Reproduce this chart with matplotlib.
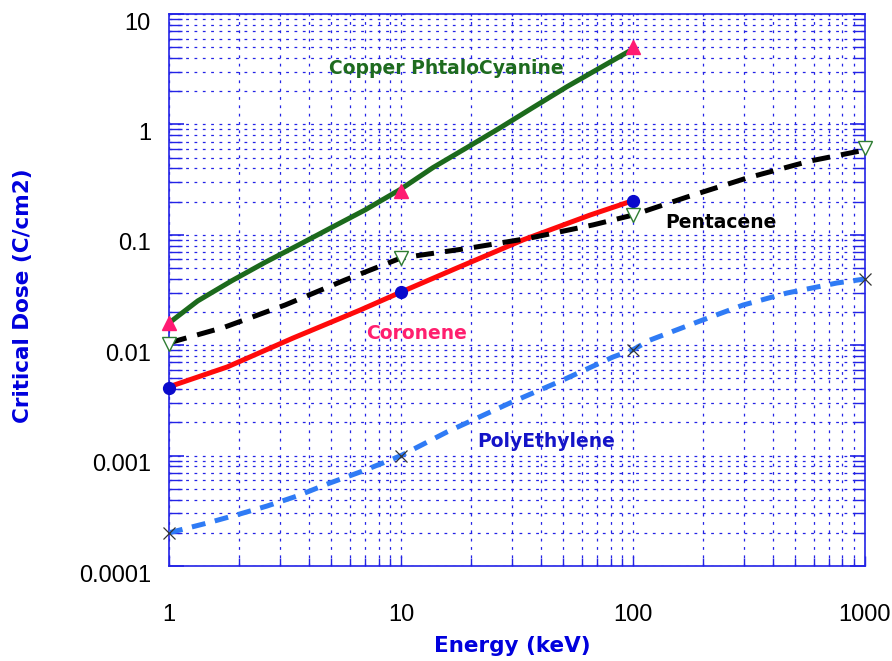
import numpy as np
import matplotlib
matplotlib.use("Agg")
import matplotlib.pyplot as plt
import matplotlib.transforms as mtransforms
from matplotlib.ticker import FixedLocator, LogLocator, NullFormatter

plt.rcParams['lines.scale_dashes'] = False

# marker points (energy in keV, critical dose in C/cm2)
copper_e = [1, 10, 100]
copper_d = [0.016, 0.25, 5.0]
coronene_e = [1, 10, 100]
coronene_d = [0.0041, 0.0303, 0.204]
pentacene_e = [1, 10, 100, 1000]
pentacene_d = [0.0103, 0.0617, 0.151, 0.61]
poly_e = [1, 10, 100, 1000]
poly_d = [0.0002, 0.001, 0.0091, 0.04]

# smooth curves
copper_curve_e = [1, 1.33, 1.87, 2.59, 3.6, 5.04, 7.0, 10, 13.7, 19.2, 26.7, 37, 52, 72, 100]
copper_curve_d = [0.0159, 0.0252, 0.0385, 0.0562, 0.0805, 0.117, 0.168, 0.26, 0.405,
                  0.615, 0.93, 1.42, 2.2, 3.25, 4.82]
coronene_curve_e = [1, 1.78, 3.42, 6.66, 10, 17.4, 33.6, 65.3, 100]
coronene_curve_d = [0.0042, 0.00635, 0.0116, 0.0208, 0.0303, 0.050, 0.09, 0.151, 0.204]
pentacene_curve_e = [1, 1.74, 3.16, 5.74, 10, 19.8, 36, 67.3, 100, 171, 310, 579, 1000]
pentacene_curve_d = [0.0105, 0.0146, 0.0231, 0.039, 0.0617, 0.0759, 0.0935, 0.123,
                     0.151, 0.22, 0.327, 0.466, 0.586]
poly_curve_e = [1, 1.46, 2.02, 2.64, 3.56, 4.94, 6.66, 8.97, 10, 15.8, 29.5, 49.9, 82,
                100, 118, 189, 298, 461, 757, 1000]
poly_curve_d = [0.0002, 0.000245, 0.000296, 0.000349, 0.00043, 0.000565, 0.00071, 0.00091,
                0.001, 0.00164, 0.003, 0.00484, 0.00782, 0.0091, 0.0111, 0.0162, 0.0231,
                0.0297, 0.0366, 0.0398]

x_ticks = [1, 10, 100, 1000]
x_labels = ["1", "10", "100", "1000"]
y_ticks = [0.0001, 0.001, 0.01, 0.1, 1, 10]
y_labels = ["0.0001", "0.001", "0.01", "0.1", "1", "10"]

blue = '#2323E6'
fig = plt.figure(figsize=(8.92, 6.61), dpi=100)
ax = fig.add_axes([0.1895, 0.1437, 0.7802, 0.8351])
ax.set_xscale('log')
ax.set_yscale('log')
ax.set_xlim(1, 1000)
ax.set_ylim(1e-4, 10)

# curves
ax.plot(copper_curve_e, copper_curve_d, color='#1C6A1C', lw=3.6, solid_capstyle='round',
        solid_joinstyle='round', zorder=3)
ax.plot(coronene_curve_e, coronene_curve_d, color='#FF0A0A', lw=3.6, solid_capstyle='round',
        solid_joinstyle='round', zorder=3)
ax.plot(pentacene_curve_e, pentacene_curve_d, color='black', lw=3.6, dashes=(13, 8), zorder=3)
ax.plot(poly_curve_e, poly_curve_d, color='#2F7BF5', lw=3.6, dashes=(10, 7), zorder=3)

# markers
ax.plot(copper_e, copper_d, ls='none', marker='^', ms=10, color='#FF1A72', zorder=4, clip_on=False)
ax.plot(coronene_e, coronene_d, ls='none', marker='o', ms=8.5, color='#0A0ACC', zorder=4, clip_on=False)
ax.plot(pentacene_e, pentacene_d, ls='none', marker='v', ms=10, mfc='white', mec='#2E7D32',
        mew=1.0, zorder=4, clip_on=False)
ax.plot(poly_e, poly_d, ls='none', marker='x', ms=9, color='#333333', mew=0.9, zorder=4, clip_on=False)

# series labels
lab = dict(fontsize=13.5, fontweight='bold', family='DejaVu Sans', ha='center', va='center')
ax.text(15.6, 3.24, "Copper PhtaloCyanine", color='#1E6B1E', **lab)
ax.text(239, 0.13, "Pentacene", color='black', **lab)
ax.text(11.7, 0.0129, "Coronene", color='#FF1F6E', **lab)
ax.text(42.2, 0.00135, "PolyEthylene", color='#1414C8', **lab)

# axes styling
ax.xaxis.set_major_locator(FixedLocator(x_ticks))
ax.yaxis.set_major_locator(FixedLocator(y_ticks))
ax.xaxis.set_minor_locator(LogLocator(base=10, subs=np.arange(2, 10)))
ax.yaxis.set_minor_locator(LogLocator(base=10, subs=np.arange(2, 10)))
ax.xaxis.set_minor_formatter(NullFormatter())
ax.yaxis.set_minor_formatter(NullFormatter())
ax.set_xticklabels(x_labels, fontsize=17, family='Liberation Sans')
ax.set_yticklabels(y_labels, fontsize=17, family='Liberation Sans')

ax.grid(which='both', color=blue, lw=0.9, dashes=(2, 4))
ax.set_axisbelow(True)
for s in ax.spines.values():
    s.set_color(blue)
    s.set_linewidth(1.2)

ax.tick_params(axis='x', which='both', direction='in', color=blue, top=False, pad=27)
ax.tick_params(axis='x', which='major', length=7, width=1)
ax.tick_params(axis='x', which='minor', length=6, width=1)
ax.tick_params(axis='y', which='both', direction='in', color=blue, left=True, right=True, pad=13)
ax.tick_params(axis='y', which='major', length=11, width=1.2)
ax.tick_params(axis='y', which='minor', length=9, width=1)

# y tick labels sit a little below their lines
shift = mtransforms.ScaledTranslation(0, -0.07, fig.dpi_scale_trans)
for t in ax.yaxis.get_major_ticks():
    t.label1.set_transform(t.label1.get_transform() + shift)

ax.set_xlabel("Energy (keV)", fontsize=15.5, fontweight='bold', family='DejaVu Sans', color='#0000DD')
ax.set_ylabel("Critical Dose (C/cm2)", fontsize=15.5, fontweight='bold', family='DejaVu Sans', color='#0000DD')
ax.xaxis.set_label_coords(0.493, -0.127)
ax.yaxis.set_label_coords(-0.195, 0.49)

fig.savefig("out.png", dpi=100)
